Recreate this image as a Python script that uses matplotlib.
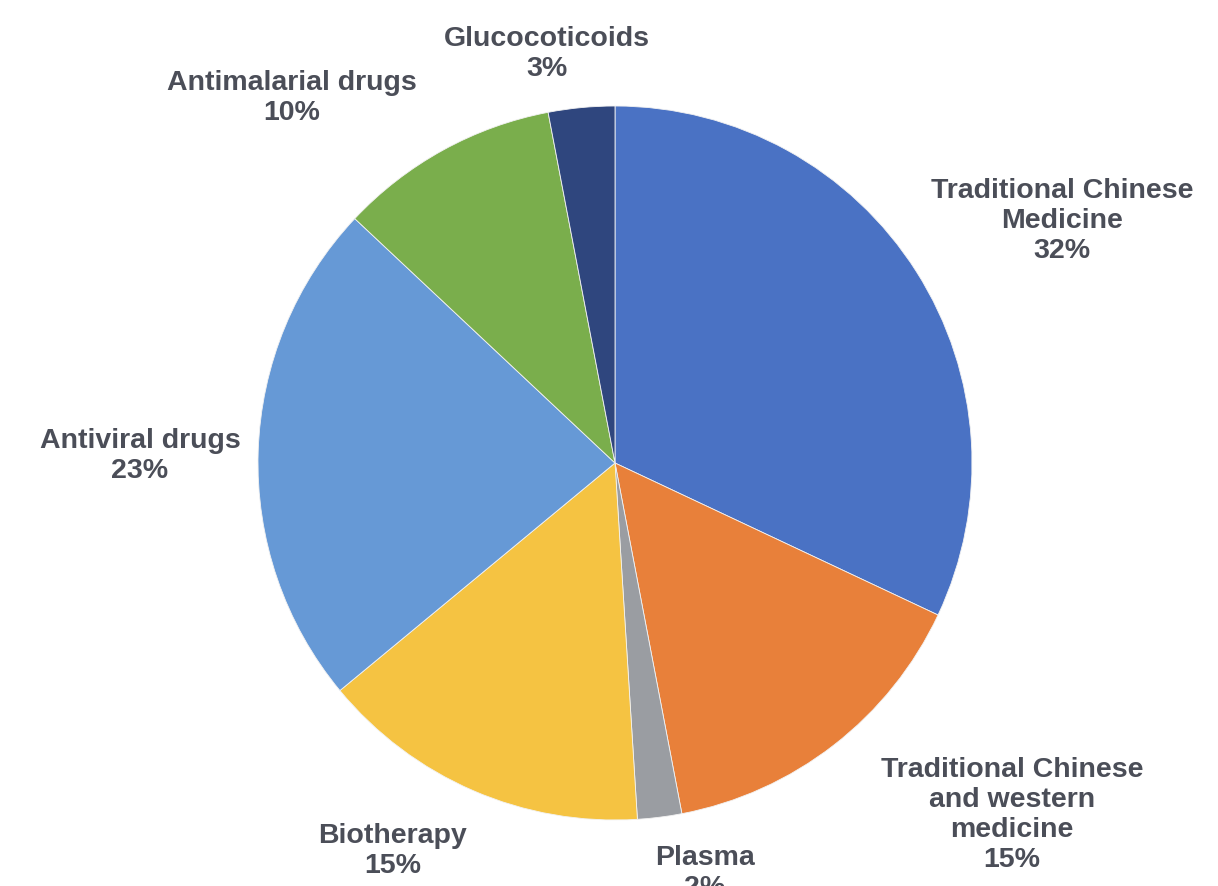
import matplotlib.pyplot as plt

# data
categories = ["Traditional Chinese\nMedicine", "Traditional Chinese\nand western\nmedicine",
              "Plasma", "Biotherapy", "Antiviral drugs", "Antimalarial drugs", "Glucocoticoids"]
shares = [32, 15, 2, 15, 23, 10, 3]
colors = ["#4A72C4", "#E8803A", "#9A9DA2", "#F5C342", "#6699D6", "#7AAE4C", "#2F467E"]

# label anchor: pixel x of centre, pixel y of the last line's baseline
label_pos = [(1062, 258), (1012, 867), (705, 895), (393, 873), (140, 478), (292, 120), (547, 76)]

W, H = 1218, 886
fig = plt.figure(figsize=(W / 100, H / 100), dpi=100)
ax = fig.add_axes([0, 0, 1, 1])

ax.pie(shares, colors=colors, startangle=90, counterclock=False,
       center=(615, H - 463), radius=357, frame=True,
       wedgeprops=dict(linewidth=0.6, edgecolor="#f2f2f2"))
ax.set_xlim(0, W)
ax.set_ylim(0, H)
ax.axis("off")

for name, val, (x, y) in zip(categories, shares, label_pos):
    ax.text(x, H - y, f"{name}\n{val}%", ha="center", va="baseline",
            fontsize=20.5, fontweight="bold", family="Liberation Sans",
            color="#4B4E58", linespacing=1.2)

plt.savefig("out.png", dpi=100)
